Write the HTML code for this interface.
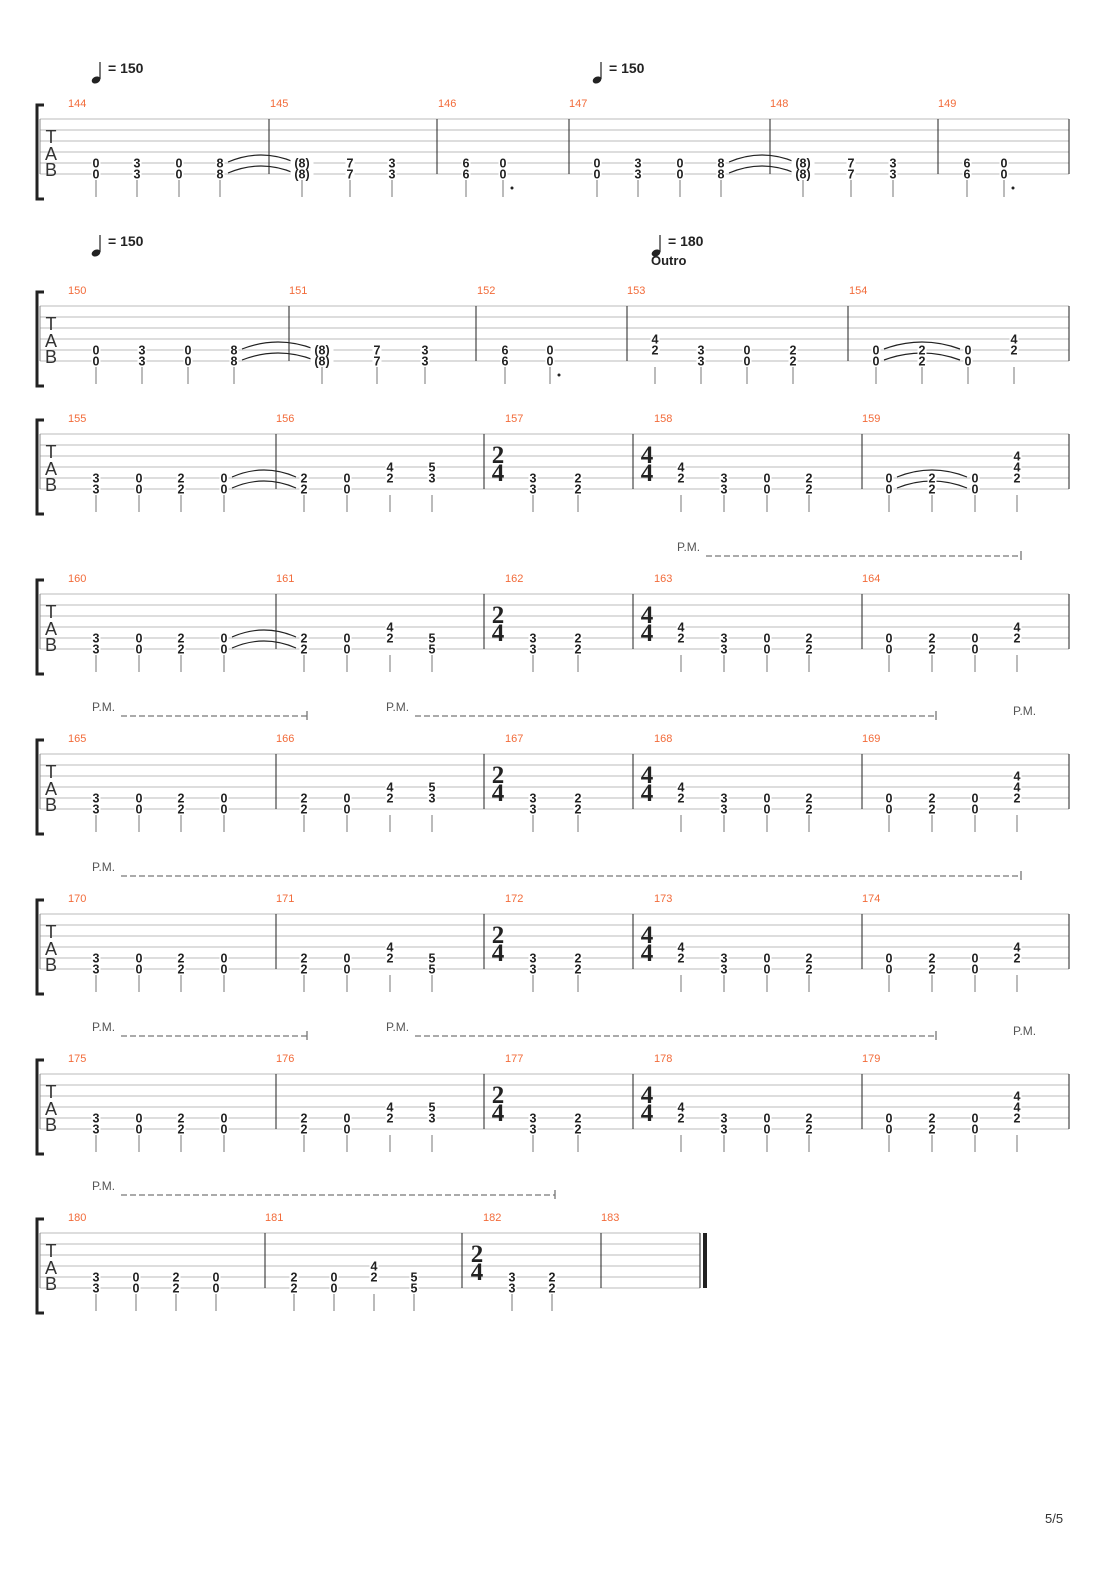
<!DOCTYPE html>
<html><head><meta charset="utf-8"><style>
body{margin:0;background:#fff}
svg text{font-family:"Liberation Sans",sans-serif}
</style></head><body>
<svg id="s" width="1110" height="1570" xmlns="http://www.w3.org/2000/svg"></svg>
<script>
const S=document.getElementById('s');let h='';
function t(x,y,str,sz,col,extra){h+=`<text x="${x}" y="${y}" font-size="${sz}" fill="${col}" ${extra||''}>${str}</text>`;}
function ln(x1,y1,x2,y2,c,w,d){h+=`<line x1="${x1}" y1="${y1}" x2="${x2}" y2="${y2}" stroke="${c}" stroke-width="${w}" ${d?'stroke-dasharray="'+d+'"':''}/>`;}
function note(top,x,arr){arr.forEach(([s,f])=>{const y=top+(s-1)*11;const w=String(f).length*7+2;h+=`<rect x="${x-w/2}" y="${y-5}" width="${w}" height="10" fill="#fff"/>`;t(x,y+4.5,f,12.5,'#222','text-anchor="middle" font-weight="bold"');});}
function stem(top,x){ln(x,top+61,x,top+78,'#777',1);}
function tie(top,x1,x2,s){const y=top+(s-1)*11-3;h+=`<path d="M${x1+8} ${y+2} Q${(x1+x2)/2} ${y-12} ${x2-8} ${y+2}" fill="none" stroke="#222" stroke-width="1.2"/>`;}
function sys(top,bars,end,nums,notes,ties,ts,final){
 for(let i=0;i<6;i++)ln(40,top+i*11,end,top+i*11,'#bbb',1);
 h+=`<path d="M44 ${top-14} L37 ${top-14} L37 ${top+80} L44 ${top+80}" fill="none" stroke="#222" stroke-width="3"/>`;
 t(51,top+24,'T',18,'#333','text-anchor="middle"');t(51,top+41,'A',18,'#333','text-anchor="middle"');t(51,top+57,'B',18,'#333','text-anchor="middle"');
 bars.forEach((b,i)=>{ln(b,top,b,top+55,'#222',1);});
 ln(40,top,40,top+55,'#888',1);
 if(!final)ln(end,top,end,top+55,'#222',1);
 nums.forEach(([x,n])=>t(x,top-12,n,11,'#f26b3a'));
 (ties||[]).forEach(([a,b,ss])=>ss.forEach(s=>tie(top,a,b,s)));
 (ts||[]).forEach(([x,a,b])=>{t(x,top+29,a,25,'#222','text-anchor="middle" style="font-family:\'Liberation Serif\',serif;font-weight:900"');t(x,top+47,b,25,'#222','text-anchor="middle" style="font-family:\'Liberation Serif\',serif;font-weight:900"');});
 notes.forEach(([x,arr,dot])=>{note(top,x,arr);stem(top,x);if(dot)h+=`<circle cx="${x+9}" cy="${top+69}" r="1.5" fill="#222"/>`;});
}
function tempo(x,y,v){h+=`<ellipse cx="${x}" cy="${y+18}" rx="4.5" ry="3.3" transform="rotate(-25 ${x} ${y+18})" fill="#222"/>`;ln(x+4,y+17,x+4,y,'#222',1.2);t(x+12,y+11,'= '+v,14,'#222','font-weight="bold"');}
function pm(x,y,x2){t(x,y+4,'P.M.',12,'#555');ln(x+29,y+9,x2,y+9,'#777',1.3,'6,3');ln(x2,y+4,x2,y+13,'#777',1.3);}
const D=(a,b)=>[[5,a],[6,b]];
tempo(96,62,150);tempo(597,62,150);
sys(119,[269,437,569,770,938],1069,[[68,144],[270,145],[438,146],[569,147],[770,148],[938,149]],
[[96,D(0,0)],[137,D(3,3)],[179,D(0,0)],[220,D(8,8)],[302,D('(8)','(8)')],[350,D(7,7)],[392,D(3,3)],[466,D(6,6)],[503,D(0,0),1],
[597,D(0,0)],[638,D(3,3)],[680,D(0,0)],[721,D(8,8)],[803,D('(8)','(8)')],[851,D(7,7)],[893,D(3,3)],[967,D(6,6)],[1004,D(0,0),1]],
[[220,302,[5,6]],[721,803,[5,6]]]);
tempo(96,235,150);tempo(656,235,180);t(651,265,'Outro',13,'#222','font-weight="bold"');
sys(306,[289,476,627,848],1069,[[68,150],[289,151],[477,152],[627,153],[849,154]],
[[96,D(0,0)],[142,D(3,3)],[188,D(0,0)],[234,D(8,8)],[322,D('(8)','(8)')],[377,D(7,7)],[425,D(3,3)],[505,D(6,6)],[550,D(0,0),1],
[655,[[4,4],[5,2]]],[701,D(3,3)],[747,D(0,0)],[793,D(2,2)],[876,D(0,0)],[922,D(2,2)],[968,D(0,0)],[1014,[[4,4],[5,2]]]],
[[234,322,[5,6]],[876,968,[5,6]]]);
function stdA(top,n,last5,endNotes,ties){
 sys(top,[276,484,633,862],1069,[[68,n],[276,n+1],[505,n+2],[654,n+3],[862,n+4]],
 [[96,D(3,3)],[139,D(0,0)],[181,D(2,2)],[224,D(0,0)],[304,D(2,2)],[347,D(0,0)],[390,[[4,4],[5,2]]],[432,last5?D(5,5):[[4,5],[5,3]]],
 [533,D(3,3)],[578,D(2,2)],[681,[[4,4],[5,2]]],[724,D(3,3)],[767,D(0,0)],[809,D(2,2)],[889,D(0,0)],[932,D(2,2)],[975,D(0,0)],[1017,endNotes]],
 ties,[[498,'2','4'],[647,'4','4']]);
}
const E3=[[3,4],[4,4],[5,2]],E2=[[4,4],[5,2]];
stdA(434,155,false,E3,[[224,304,[5,6]],[889,975,[5,6]]]);
pm(677,547,1021);
stdA(594,160,true,E2,[[224,304,[5,6]]]);
pm(92,707,307);pm(386,707,936);t(1013,715,'P.M.',12,'#555');
stdA(754,165,false,E3,[]);
pm(92,867,1021);
stdA(914,170,true,E2,[]);
pm(92,1027,307);pm(386,1027,936);t(1013,1035,'P.M.',12,'#555');
stdA(1074,175,false,E3,[]);
pm(92,1186,555);
sys(1233,[265,462,601],700,[[68,180],[265,181],[483,182],[601,183]],
[[96,D(3,3)],[136,D(0,0)],[176,D(2,2)],[216,D(0,0)],[294,D(2,2)],[334,D(0,0)],[374,[[4,4],[5,2]]],[414,D(5,5)],[512,D(3,3)],[552,D(2,2)]],
[],[[477,'2','4']],true);
ln(700,1233,700,1288,'#222',1);ln(705,1233,705,1288,'#222',4);
t(1045,1523,'5/5',13,'#333');
S.innerHTML=h;
</script>
</body></html>
